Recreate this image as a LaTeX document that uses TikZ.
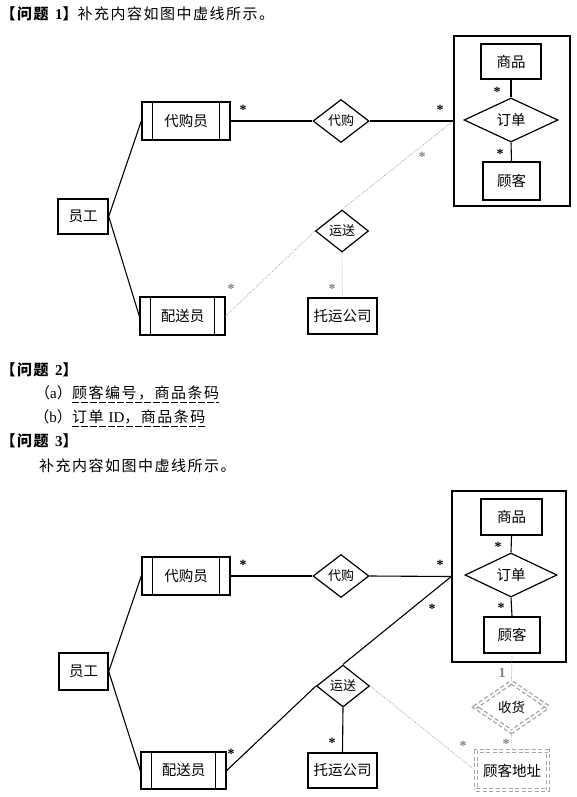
\documentclass[tikz,border=0pt]{standalone}
\usepackage{fontspec}
\setmainfont{Liberation Serif}
\newfontfamily\cjk{Noto Sans CJK SC}
\newfontfamily\cjkT[LetterSpace=10]{Noto Sans CJK SC}
\usetikzlibrary{shapes.geometric}
\newcommand\weakbars[1]{\draw[line width=1.2pt] ([xshift=11pt]#1.north west) -- ([xshift=11pt]#1.south west) ([xshift=-11pt]#1.north east) -- ([xshift=-11pt]#1.south east);}
\tikzset{
  ent/.style={draw, line width=1.4pt, inner sep=0pt, font=\cjk\fontsize{14.5}{16}\selectfont},
  rel/.style={diamond, draw, line width=1.2pt, inner sep=0pt, aspect=1, font=\cjk\fontsize{13}{15}\selectfont},
  grp/.style={draw, line width=1.5pt, inner sep=0pt},
  conn/.style={line width=1.1pt},
  dotl/.style={gray!75, line width=0.7pt, dash pattern=on 0.8pt off 1.2pt},
  star/.style={inner sep=0pt, font=\bfseries\fontsize{14}{14}\selectfont},
  gstar/.style={star, text=gray},
  ddash/.style={draw=gray!70, line width=1.3pt, dash pattern=on 4pt off 2.5pt, double=white, double distance=2pt},
  txt/.style={anchor=west, inner sep=0pt, font=\fontsize{15}{17}\selectfont},
  uline/.style={line width=0.7pt, dash pattern=on 7pt off 2pt}
}
\begin{document}
\begin{tikzpicture}[x=1pt,y=-1pt]
\useasboundingbox (0,0) rectangle (577,797);
% ---------- texts ----------
\node[txt] (t1) at (0.5,14) {{\cjkT\bfseries 【问题 }\textbf{1}{\cjkT\bfseries 】}{\cjkT 补充内容如图中虚线所示。}};
\node[txt] (t2) at (0.5,370) {{\cjkT\bfseries 【问题 }\textbf{2}{\cjkT\bfseries 】}};
\node[txt] (ua) at (72,393) {\cjkT 顾客编号，商品条码};
\node[inner sep=0pt, anchor=east, font=\fontsize{15}{17}\selectfont] (pa) at (ua.west) {{\cjkT （}a{\cjkT ）}};
\node[txt] (ub) at (72,417) {{\cjkT 订单 }ID{\cjkT ，商品条码}};
\node[inner sep=0pt, anchor=east, font=\fontsize{15}{17}\selectfont] (pb) at (ub.west) {{\cjkT （}b{\cjkT ）}};
\draw[uline] ([yshift=-2pt]ua.south west) -- ([yshift=-2pt]ua.south east);
\draw[uline] ([yshift=-2pt]ub.south west) -- ([yshift=-2pt]ub.south east);
\node[txt] (t3) at (0.5,441) {{\cjkT\bfseries 【问题 }\textbf{3}{\cjkT\bfseries 】}};
\node[txt] (t4) at (39,466) {\cjkT 补充内容如图中虚线所示。};

% ---------- diagram 1 ----------
\node[grp, minimum width=116pt, minimum height=170pt] (bigA) at (512,121) {};
\node[ent, minimum width=60pt, minimum height=35pt] (spA) at (511,61.5) {商品};
\node[rel, minimum width=94pt, minimum height=44pt, font=\cjk\fontsize{14.5}{16}\selectfont] (ddA) at (511,120) {订单};
\node[ent, minimum width=57pt, minimum height=38pt] (gkA) at (511.5,181) {顾客};
\node[ent, minimum width=88pt, minimum height=38pt] (dgyA) at (186,121) {代购员};
\node[rel, minimum width=56pt, minimum height=43pt] (dgA) at (341,121) {代购};
\node[rel, minimum width=53pt, minimum height=42pt] (ysA) at (342,231) {运送};
\node[ent, minimum width=69pt, minimum height=36pt] (tyA) at (342.5,316) {托运公司};
\node[ent, minimum width=85pt, minimum height=38pt] (psyA) at (182.5,316) {配送员};
\node[ent, minimum width=50pt, minimum height=35pt] (ygA) at (83,216.5) {员工};
\weakbars{dgyA}
\weakbars{psyA}
\draw[conn] (ygA.east) -- (dgyA.west);
\draw[conn] (ygA.east) -- (psyA.west);
\draw[conn] (dgyA.east) -- (dgA.west);
\draw[conn] (dgA.east) -- (bigA.west);
\draw[conn] (spA.south) -- (ddA.north);
\draw[conn] (ddA.south) -- (gkA.north);
\draw[dotl] (psyA.east) -- (ysA.west);
\draw[dotl] (ysA.north) -- (bigA.west);
\draw[dotl] (ysA.south) -- (tyA.north);
\node[star] at (243,110) {*};
\node[star] at (440,110) {*};
\node[star] at (497,92) {*};
\node[star] at (500,154) {*};
\node[gstar] at (422,157) {*};
\node[gstar] at (231,289) {*};
\node[gstar] at (332,289) {*};

% ---------- diagram 3 ----------
\node[grp, minimum width=114pt, minimum height=171pt] (bigB) at (509,576.5) {};
\node[ent, minimum width=61pt, minimum height=36pt] (spB) at (511.5,517) {商品};
\node[rel, minimum width=92pt, minimum height=44pt, font=\cjk\fontsize{14.5}{16}\selectfont] (ddB) at (511,575) {订单};
\node[ent, minimum width=56pt, minimum height=36pt] (gkB) at (512,635) {顾客};
\node[ent, minimum width=88pt, minimum height=38pt] (dgyB) at (186,576) {代购员};
\node[rel, minimum width=56pt, minimum height=43pt] (dgB) at (341,576) {代购};
\node[rel, minimum width=53pt, minimum height=42pt] (ysB) at (343,686) {运送};
\node[ent, minimum width=69pt, minimum height=35pt] (tyB) at (342.5,770.5) {托运公司};
\node[ent, minimum width=85pt, minimum height=37pt] (psyB) at (183.5,770.5) {配送员};
\node[ent, minimum width=49pt, minimum height=37pt] (ygB) at (83.5,671.5) {员工};
\node[diamond, ddash, aspect=1, inner sep=0pt, minimum width=73pt, minimum height=50pt, font=\cjk\fontsize{13.5}{15}\selectfont] (shB) at (511.5,707) {收货};
\node[ddash, inner sep=0pt, minimum width=72pt, minimum height=39pt, font=\cjk\fontsize{14.5}{16}\selectfont] (dzB) at (512,770.5) {顾客地址};
\weakbars{dgyB}
\weakbars{psyB}
\draw[conn] (ygB.east) -- (dgyB.west);
\draw[conn] (ygB.east) -- (psyB.west);
\draw[conn] (dgyB.east) -- (dgB.west);
\draw[conn] (dgB.east) -- (bigB.west);
\draw[conn] (bigB.west) -- (ysB.north);
\draw[conn] (psyB.east) -- (ysB.west);
\draw[conn] (ysB.south) -- (tyB.north);
\draw[conn] (spB.south) -- (ddB.north);
\draw[conn] (ddB.south) -- (gkB.north);
\draw[dotl] (ysB.east) -- (dzB.west);
\draw[dotl] (gkB.south) -- (shB.north);
\draw[dotl] (shB.south) -- (dzB.north);
\node[star] at (243,565) {*};
\node[star] at (440,565) {*};
\node[star] at (432,609) {*};
\node[star] at (231,754) {*};
\node[star] at (332,743) {*};
\node[star] at (498,547) {*};
\node[star] at (501,608) {*};
\node[gstar] at (506,744) {*};
\node[gstar] at (463,746) {*};
\node[inner sep=0pt, text=gray, font=\bfseries\fontsize{14}{14}\selectfont] at (502,673) {1};
\end{tikzpicture}
\end{document}
